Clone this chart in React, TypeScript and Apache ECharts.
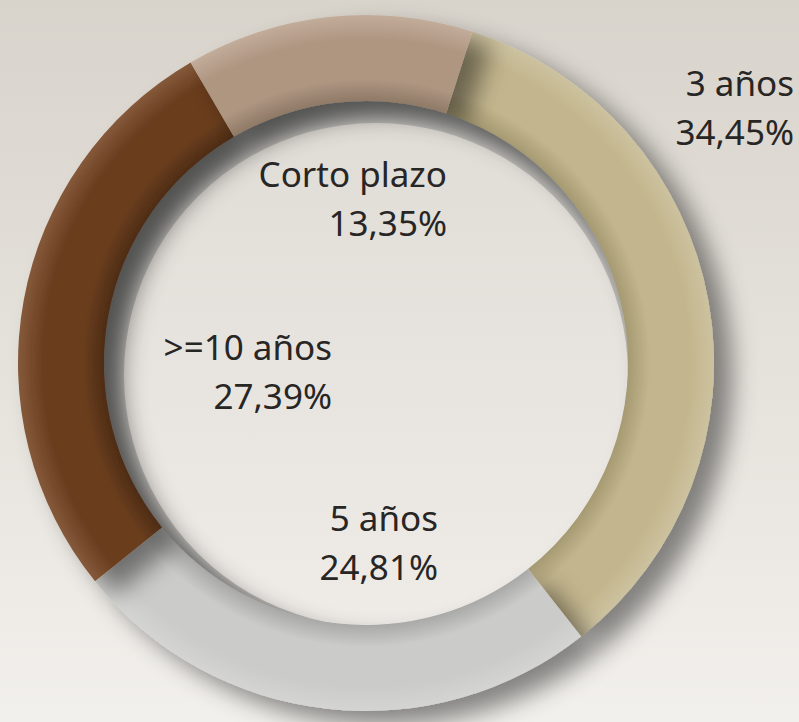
import React, { useEffect, useRef } from "react";
import * as echarts from "echarts";

const categories = ["3 años", "5 años", ">=10 años", "Corto plazo"];
const values = [34.45, 24.81, 27.39, 13.35];
const valueLabels = ["34,45%", "24,81%", "27,39%", "13,35%"];

const baseColors = ["#c3b68e", "#cbcbca", "#6a3e1f", "#ae9681"];
const innerColors = ["#a69a72", "#a9a9a8", "#4e2c14", "#8f7a67"];
const outerColors = ["#cdc29f", "#d4d4d3", "#85593a", "#c2ac9a"];

// label anchor (right edge, vertical middle), px
const labelPos: [number, number][] = [
  [794, 107],
  [438, 542],
  [332, 371],
  [447, 198],
];

const CX = 366;
const CY = 363;
const R_OUT = 348;
const R_IN = 262;

export default function App() {
  const ref = useRef<HTMLDivElement>(null);
  useEffect(() => {
    document.body.style.margin = "0";
    const chart = echarts.init(ref.current!, null, { renderer: "svg" });
    const ringData = categories.map((name, i) => ({
      name,
      value: values[i],
      itemStyle: {
        color: new echarts.graphic.RadialGradient(
          CX,
          CY,
          R_OUT,
          [
            { offset: R_IN / R_OUT, color: innerColors[i] },
            { offset: (R_IN + 22) / R_OUT, color: baseColors[i] },
            { offset: 0.93, color: baseColors[i] },
            { offset: 1, color: outerColors[i] },
          ],
          true
        ),
      },
    }));
    const labels = categories.map((name, i) => ({
      type: "text",
      z: 100,
      x: labelPos[i][0],
      y: labelPos[i][1],
      silent: true,
      style: {
        text: `${name}\n${valueLabels[i]}`,
        fontFamily: "Noto Sans",
        fontSize: 35,
        lineHeight: 49,
        fill: "#272624",
        align: "right",
        verticalAlign: "middle",
      },
    }));
    chart.setOption({
      animation: false,
      backgroundColor: new echarts.graphic.LinearGradient(0, 0, 0, 1, [
        { offset: 0, color: "#d8d3cb" },
        { offset: 1, color: "#f2f0ec" },
      ]),
      graphic: labels,
      series: [
        {
          type: "pie",
          z: 1,
          silent: true,
          center: [CX, CY],
          radius: [0, R_IN + 2],
          label: { show: false },
          labelLine: { show: false },
          data: [{ value: 1, itemStyle: { color: "#959593" } }],
        },
        {
          type: "pie",
          z: 2,
          silent: true,
          center: [CX + 10, CY + 12],
          radius: [0, R_IN - 10],
          label: { show: false },
          labelLine: { show: false },
          data: [
            {
              value: 1,
              itemStyle: {
                color: new echarts.graphic.LinearGradient(0, 0, 0, 1, [
                  { offset: 0, color: "#e0dcd6" },
                  { offset: 1, color: "#efece8" },
                ]),
                shadowBlur: 22,
                shadowColor: "#e2dfd9",
              },
            },
          ],
        },
        {
          type: "pie",
          z: 3,
          center: [CX, CY],
          radius: [R_IN, R_OUT],
          startAngle: 72.2,
          clockwise: true,
          silent: true,
          itemStyle: {
            shadowBlur: 24,
            shadowOffsetX: 18,
            shadowOffsetY: 14,
            shadowColor: "rgba(0,0,0,0.45)",
          },
          label: { show: false },
          labelLine: { show: false },
          data: ringData,
        },
      ],
    });
    return () => chart.dispose();
  }, []);
  return <div ref={ref} style={{ width: 799, height: 722 }} />;
}
